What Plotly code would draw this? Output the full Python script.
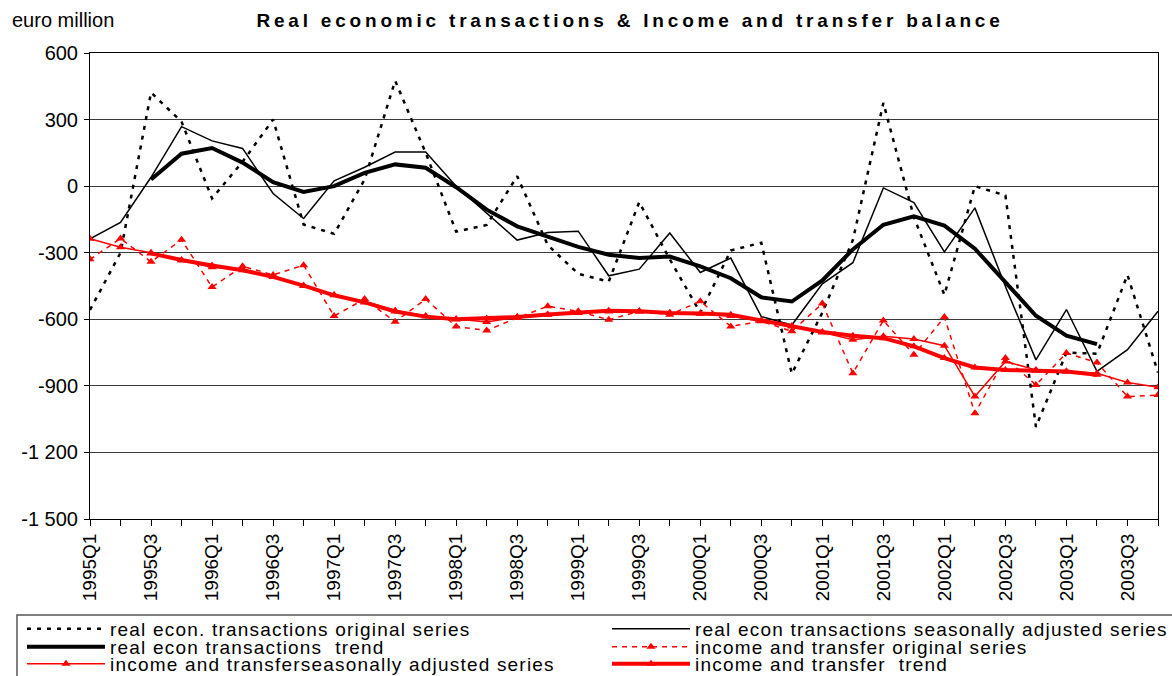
import plotly.graph_objects as go

# ---------------- data ----------------
quarters = [f"{y}Q{q}" for y in range(1995, 2004) for q in range(1, 5)]
x_tick_text = [q if q.endswith(("Q1", "Q3")) else "" for q in quarters]

real_orig = [-558, -300, 422, 290, -55, 110, 300, -173, -215, 30, 475, 150,
             -205, -175, 45, -265, -395, -430, -72, -330, -570, -290, -255, -845,
             -570, -243, 375, -140, -490, 0, -42, -1085, -750, -755, -400, -840]
real_sa = [-237, -163, 40, 268, 204, 170, -33, -146, 24, 85, 154, 154,
           0, -121, -243, -209, -203, -404, -374, -211, -389, -324, -588, -626,
           -440, -345, -8, -74, -296, -98, -452, -783, -556, -835, -737, -564]
real_trend = [None, None, 30, 146, 172, 106, 18, -26, 0, 60, 98, 83,
              -5, -106, -181, -226, -274, -309, -324, -317, -362, -415, -501, -520,
              -425, -285, -174, -136, -178, -282, -436, -584, -674, -712, None, None]
inc_orig = [-330, -236, -341, -242, -455, -361, -400, -356, -585, -509, -611, -509,
            -633, -650, -594, -541, -564, -602, -564, -579, -519, -632, -609, -654,
            -529, -843, -605, -760, -590, -1024, -775, -896, -752, -795, -948, -941]
inc_sa = [-237, -275, -300, -335, -365, -375, -410, -450, -490, -520, -560, -585,
          -600, -612, -590, -580, -572, -565, -565, -570, -575, -585, -608, -632,
          -659, -692, -677, -689, -719, -948, -790, -828, -835, -843, -885, -906]
inc_trend = [None, None, -303, -333, -358, -379, -409, -448, -492, -524, -565, -588,
             -600, -597, -590, -578, -571, -562, -564, -572, -574, -580, -605, -630,
             -657, -674, -685, -722, -775, -817, -828, -832, -835, -850, None, None]

y_tick_vals = [-1500, -1200, -900, -600, -300, 0, 300, 600]
y_tick_text = ["-1 500", "-1 200", "-900", "-600", "-300", "0", "300", "600"]

names = [
    "real econ. transactions original series",
    "real econ transactions seasonally adjusted series",
    "real econ transactions  trend",
    "income and transfer original series",
    "income and transferseasonally adjusted series",
    "income and transfer  trend",
]

# ---------------- figure ----------------
W, H = 1172, 676
L, R, T, B = 90, 14, 53, 157
PW, PH = W - L - R, H - T - B
FONT = "Liberation Sans, Arial, sans-serif"


def px_x(p):
    return (p - L) / PW


def px_y(p):
    return (H - B - p) / PH


def lname(s):
    return '<span style="letter-spacing:1.2px">' + s + '</span>'


RED = "#ff0000"
fig = go.Figure()
fig.add_trace(go.Scatter(x=quarters, y=real_orig, mode="lines", name=lname(names[0]),
                         line=dict(color="black", width=2.5, dash="4px,6px"), legend="legend"))
fig.add_trace(go.Scatter(x=quarters, y=real_sa, mode="lines", name=lname(names[1]),
                         line=dict(color="black", width=1.5), legend="legend2"))
fig.add_trace(go.Scatter(x=quarters, y=real_trend, mode="lines", name=lname(names[2]),
                         line=dict(color="black", width=4), legend="legend3"))
fig.add_trace(go.Scatter(x=quarters, y=inc_orig, mode="lines+markers", name=lname(names[3]),
                         line=dict(color=RED, width=1.5, dash="5px,5px"),
                         marker=dict(symbol="triangle-up", size=8, color=RED), legend="legend4"))
fig.add_trace(go.Scatter(x=quarters, y=inc_sa, mode="lines+markers", name=lname(names[4]),
                         line=dict(color=RED, width=1.5),
                         marker=dict(symbol="triangle-up", size=8, color=RED), legend="legend5"))
fig.add_trace(go.Scatter(x=quarters, y=inc_trend, mode="lines+markers", name=lname(names[5]),
                         line=dict(color=RED, width=4),
                         marker=dict(symbol="triangle-up", size=8, color=RED), legend="legend6"))

col1_x, col2_x = px_x(22), px_x(607)
rows = [px_y(629), px_y(647), px_y(664)]
legend_pos = {
    "legend": (col1_x, rows[0]), "legend2": (col2_x, rows[0]),
    "legend3": (col1_x, rows[1]), "legend4": (col2_x, rows[1]),
    "legend5": (col1_x, rows[2]), "legend6": (col2_x, rows[2]),
}
legend_layout = {}
for key, (lx, ly) in legend_pos.items():
    legend_layout[key] = dict(x=lx, y=ly, xanchor="left", yanchor="middle",
                              bgcolor="rgba(0,0,0,0)", borderwidth=0,
                              font=dict(family=FONT, size=19, color="black"),
                              itemwidth=78, tracegroupgap=0)

fig.update_layout(
    width=W, height=H,
    margin=dict(l=L, r=R, t=T, b=B, autoexpand=False),
    paper_bgcolor="white", plot_bgcolor="white",
    font=dict(family=FONT, size=19, color="black"),
    showlegend=True,
    title=dict(text='<b><span style="letter-spacing:3.8px">Real economic transactions &amp; Income and transfer balance</span></b>',
               x=630 / W, xref="container", xanchor="center",
               y=1 - 20 / H, yref="container", yanchor="middle",
               font=dict(family=FONT, size=19, color="black")),
    xaxis=dict(type="category", range=[0, 35], tickmode="array",
               tickvals=quarters, ticktext=x_tick_text, tickangle=-90,
               ticks="outside", ticklen=6, tickcolor="black",
               showline=True, linecolor="black", linewidth=1, mirror=True,
               showgrid=False, zeroline=False,
               tickfont=dict(family=FONT, size=19, color="black")),
    yaxis=dict(range=[-1500, 600], tickmode="array", tickvals=y_tick_vals,
               ticktext=y_tick_text, ticks="outside", ticklen=5, tickcolor="black",
               ticklabelstandoff=2,
               showline=True, linecolor="black", linewidth=1, mirror=True,
               showgrid=True, gridcolor="#3a3a3a", gridwidth=1, zeroline=False,
               tickfont=dict(family=FONT, size=20, color="black")),
    annotations=[dict(text="euro million", xref="paper", yref="paper",
                      x=px_x(10), y=px_y(20), xanchor="left", yanchor="middle",
                      showarrow=False, font=dict(family=FONT, size=20, color="black"))],
    shapes=[dict(type="rect", xref="paper", yref="paper",
                 x0=px_x(17), x1=px_x(1190), y0=px_y(615), y1=px_y(700),
                 line=dict(color="#555555", width=1.5), fillcolor="rgba(0,0,0,0)")],
    **legend_layout,
)

fig.write_html("out.html", config={"displayModeBar": False},
               post_script="document.body.style.margin='0px';document.body.style.overflow='hidden';")
